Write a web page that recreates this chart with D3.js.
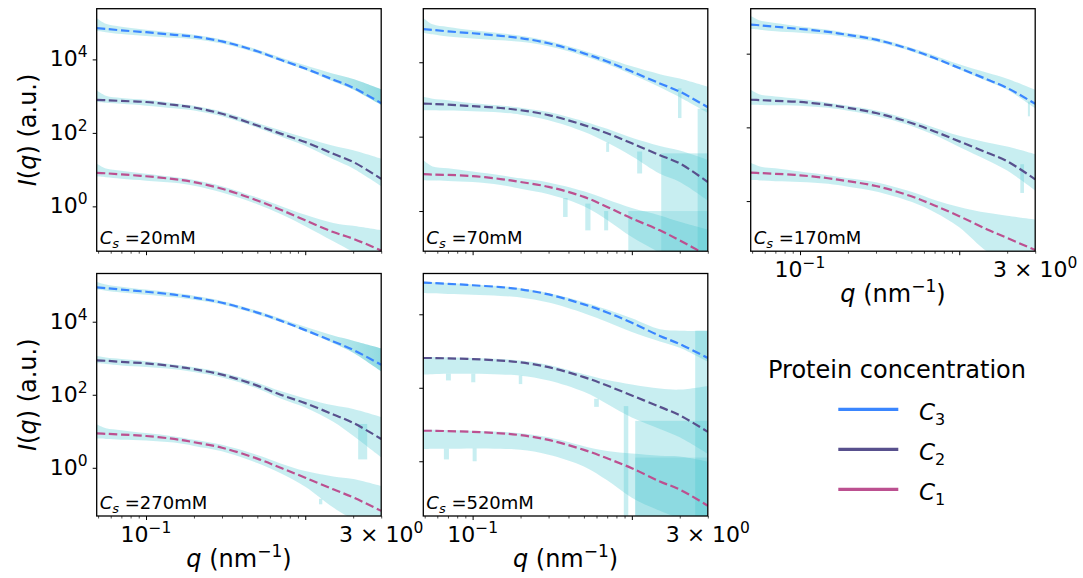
<!DOCTYPE html>
<html><head><meta charset="utf-8">
<script src="https://cdn.jsdelivr.net/npm/d3@7"></script>
<style>
body{margin:0;background:#fff}
svg{display:block}
text{font-family:"DejaVu Sans",sans-serif;fill:#000}
</style>
</head><body>
<svg id="chart" width="1083" height="578"></svg>
<script>
// ---------------- data ----------------
const qGrid = [0.049, 0.056, 0.07, 0.1, 0.15, 0.2, 0.3, 0.5, 0.7, 1, 1.5, 2, 3];
const saltLabels = ["20mM", "70mM", "170mM", "270mM", "520mM"];
const seriesNames = ["3", "2", "1"];
const seriesColors = ["#3a86ff", "#58508d", "#bc5090"];
// log10 of y-axis limits for each panel
const yLimitsLog = [[-1.22, 5.38], [-1.08, 5.44], [-1.36, 5.22], [-1.32, 5.32], [-1.49, 5.11]];
const xLimits = [0.049, 3];

// fitted model curves, log10 I(q) at qGrid
const fitC3 = [
  [4.85, 4.83, 4.79, 4.74, 4.67, 4.62, 4.49, 4.22, 3.99, 3.75, 3.45, 3.23, 2.81],
  [4.89, 4.87, 4.83, 4.78, 4.71, 4.65, 4.51, 4.24, 4.02, 3.75, 3.43, 3.21, 2.79],
  [4.79, 4.77, 4.73, 4.67, 4.59, 4.51, 4.38, 4.11, 3.88, 3.61, 3.30, 3.07, 2.64],
  [4.94, 4.92, 4.88, 4.82, 4.74, 4.66, 4.52, 4.25, 4.03, 3.77, 3.46, 3.23, 2.82],
  [4.86, 4.85, 4.83, 4.79, 4.74, 4.68, 4.54, 4.27, 4.05, 3.77, 3.41, 3.19, 2.81]
];
const fitC2 = [
  [2.90, 2.89, 2.87, 2.84, 2.76, 2.69, 2.52, 2.20, 1.98, 1.75, 1.43, 1.21, 0.75],
  [2.89, 2.88, 2.86, 2.82, 2.77, 2.71, 2.58, 2.31, 2.09, 1.82, 1.50, 1.28, 0.78],
  [2.75, 2.74, 2.72, 2.69, 2.61, 2.53, 2.39, 2.12, 1.89, 1.62, 1.31, 1.08, 0.59],
  [2.94, 2.93, 2.90, 2.86, 2.78, 2.70, 2.55, 2.25, 2.00, 1.77, 1.46, 1.23, 0.79],
  [2.81, 2.81, 2.80, 2.78, 2.74, 2.69, 2.56, 2.29, 2.06, 1.79, 1.48, 1.25, 0.80]
];
const fitC1 = [
  [0.91, 0.90, 0.87, 0.82, 0.74, 0.66, 0.48, 0.16, -0.09, -0.38, -0.70, -0.88, -1.20],
  [0.99, 0.98, 0.97, 0.94, 0.86, 0.78, 0.65, 0.38, 0.11, -0.20, -0.52, -0.79, -1.20],
  [0.77, 0.76, 0.74, 0.70, 0.62, 0.54, 0.41, 0.13, -0.12, -0.41, -0.77, -1.00, -1.33],
  [0.94, 0.93, 0.91, 0.87, 0.79, 0.70, 0.55, 0.25, 0.00, -0.27, -0.59, -0.81, -1.18],
  [0.83, 0.83, 0.82, 0.80, 0.76, 0.71, 0.58, 0.31, 0.08, -0.19, -0.55, -0.77, -1.21]
];

// measured-data band: upper / lower edge, in decades relative to the fit
const upC3 = [
  [0.28, 0.14, 0.10, 0.07, 0.06, 0.05, 0.05, 0.05, 0.06, 0.09, 0.16, 0.24, 0.38],
  [0.30, 0.15, 0.12, 0.08, 0.07, 0.06, 0.06, 0.07, 0.09, 0.14, 0.25, 0.35, 0.55],
  [0.23, 0.13, 0.10, 0.07, 0.06, 0.05, 0.05, 0.05, 0.07, 0.10, 0.18, 0.25, 0.38],
  [0.15, 0.10, 0.08, 0.06, 0.05, 0.05, 0.05, 0.05, 0.06, 0.09, 0.16, 0.25, 0.45],
  [0.03, 0.02, 0.02, 0.02, 0.02, 0.03, 0.04, 0.06, 0.08, 0.12, 0.18, 0.36, 0.74]
];
const dnC3 = [
  [-0.08, -0.09, -0.10, -0.10, -0.08, -0.07, -0.06, -0.05, -0.04, -0.04, -0.05, -0.05, -0.05],
  [-0.10, -0.12, -0.14, -0.14, -0.12, -0.10, -0.08, -0.07, -0.07, -0.08, -0.10, -0.15, -0.15],
  [-0.12, -0.12, -0.12, -0.10, -0.08, -0.07, -0.06, -0.05, -0.04, -0.04, -0.05, -0.05, -0.12],
  [-0.06, -0.07, -0.08, -0.08, -0.07, -0.06, -0.05, -0.05, -0.04, -0.04, -0.05, -0.08, -0.18],
  [-0.28, -0.28, -0.28, -0.26, -0.24, -0.22, -0.22, -0.24, -0.26, -0.25, -0.15, -0.10, -0.10]
];
const upC2 = [
  [0.26, 0.12, 0.08, 0.06, 0.05, 0.05, 0.06, 0.07, 0.09, 0.12, 0.22, 0.32, 0.55],
  [0.18, 0.14, 0.12, 0.08, 0.07, 0.07, 0.08, 0.10, 0.12, 0.15, 0.25, 0.35, 0.60],
  [0.27, 0.15, 0.12, 0.08, 0.06, 0.06, 0.07, 0.08, 0.10, 0.15, 0.28, 0.40, 0.68],
  [0.12, 0.09, 0.08, 0.06, 0.05, 0.05, 0.06, 0.08, 0.10, 0.13, 0.25, 0.38, 0.60],
  [0.03, 0.03, 0.03, 0.03, 0.04, 0.05, 0.06, 0.08, 0.15, 0.30, 0.50, 0.70, 1.25]
];
const dnC2 = [
  [-0.06, -0.07, -0.08, -0.10, -0.09, -0.08, -0.07, -0.06, -0.08, -0.10, -0.15, -0.18, -0.20],
  [-0.18, -0.17, -0.16, -0.14, -0.12, -0.12, -0.14, -0.18, -0.25, -0.35, -0.50, -0.50, -0.50],
  [-0.14, -0.13, -0.12, -0.10, -0.08, -0.08, -0.08, -0.08, -0.10, -0.15, -0.20, -0.25, -0.30],
  [-0.08, -0.09, -0.10, -0.10, -0.08, -0.08, -0.08, -0.08, -0.10, -0.12, -0.20, -0.35, -0.50],
  [-0.45, -0.44, -0.42, -0.40, -0.38, -0.36, -0.36, -0.40, -0.50, -0.60, -0.60, -0.60, -0.60]
];
const upC1 = [
  [0.26, 0.13, 0.10, 0.07, 0.06, 0.06, 0.07, 0.08, 0.10, 0.15, 0.25, 0.35, 0.55],
  [0.38, 0.22, 0.18, 0.12, 0.10, 0.10, 0.12, 0.15, 0.20, 0.28, 0.40, 0.50, 0.70],
  [0.27, 0.18, 0.15, 0.10, 0.08, 0.08, 0.10, 0.12, 0.15, 0.25, 0.45, 0.60, 0.83],
  [0.25, 0.15, 0.12, 0.08, 0.07, 0.07, 0.08, 0.10, 0.12, 0.18, 0.35, 0.50, 0.68],
  [0.03, 0.03, 0.03, 0.03, 0.04, 0.05, 0.07, 0.10, 0.20, 0.40, 0.70, 0.90, 1.20]
];
const dnC1 = [
  [-0.10, -0.11, -0.12, -0.12, -0.10, -0.10, -0.10, -0.10, -0.12, -0.16, -0.25, -0.35, -0.30],
  [-0.16, -0.16, -0.16, -0.16, -0.16, -0.18, -0.20, -0.25, -0.35, -0.50, -0.60, -0.60, -0.60],
  [-0.20, -0.20, -0.20, -0.18, -0.15, -0.15, -0.15, -0.15, -0.18, -0.30, -0.60, -0.60, -0.60],
  [-0.14, -0.14, -0.14, -0.12, -0.10, -0.10, -0.10, -0.12, -0.15, -0.25, -0.50, -0.60, -0.60],
  [-0.50, -0.49, -0.48, -0.45, -0.42, -0.40, -0.40, -0.45, -0.60, -0.80, -0.80, -0.80, -0.80]
];
// extra noisy data regions / drop-outs: [q from, q to, log top, log bottom (null = axis bottom), dark?]
const dataBlocks = [
  [],
  [[0.95, 1.53, 0.0, null, 0], [1.53, 3.0, 1.55, null, 0], [2.59, 3.0, 2.75, null, 0], [1.53, 3.0, 0.0, null, 1],
   [1.08, 1.16, 1.6, 1.01, 0], [0.51, 0.55, 0.2, -0.52, 0], [0.67, 0.71, 0.0, -0.52, 0], [1.95, 2.05, 3.3, 2.5, 0],
   [0.37, 0.395, 0.35, -0.16, 0], [0.69, 0.72, 1.84, 1.59, 0]],
  [[2.70, 2.78, 2.7, 2.3, 0], [2.42, 2.55, 1.0, 0.22, 0]],
  [[2.15, 2.45, 1.2, 0.23, 0], [1.22, 1.28, -0.85, -1.0, 0]],
  [[0.89, 0.95, 1.5, null, 0], [1.05, 3.0, 1.1, null, 0], [2.5, 3.0, 3.55, null, 0], [1.05, 3.0, 0.1, null, 1],
   [0.068, 0.073, 2.38, 2.2, 0], [0.098, 0.104, 2.38, 2.15, 0], [0.195, 0.205, 2.33, 2.1, 0],
   [0.066, 0.071, 0.34, 0.05, 0], [0.1, 0.106, 0.35, 0.0, 0], [0.58, 0.62, 1.7, 1.48, 0]]
];
const xMajorTicks = [0.1, 1];
const xMinorTicks = [0.05, 0.06, 0.07, 0.08, 0.09, 0.2, 0.3, 0.4, 0.5, 0.6, 0.7, 0.8, 0.9, 2, 3];
const xTickLabels = [[0.1, "10", "−1"], [3, "3 × 10", "0"]];
const yTickValues = [1, 100, 10000];
const yTickExps = ["0", "2", "4"];
const legendTitle = "Protein concentration";

// ---------------- layout ----------------
const svg = d3.select("#chart");
const colX = [96.7, 423.3, 750.7];
const rowY = [8.7, 273.5];
const pw = 284.5, ph = 242.5;
const panelPos = [[0, 0], [1, 0], [2, 0], [0, 1], [1, 1]];
const showXLabels = [false, false, true, true, true];
const showYLabels = [true, false, false, true, false];
const bandFill = "#4cc9d2", bandOpacity = 0.31;
const tealFill = "#22b4c0";

const fits = [fitC3, fitC2, fitC1];
const ups = [upC3, upC2, upC1];
const dns = [dnC3, dnC2, dnC1];
const defs = svg.append("defs");

saltLabels.forEach((lab, p) => {
  const [ci, ri] = panelPos[p];
  const g = svg.append("g").attr("transform", `translate(${colX[ci]},${rowY[ri]})`);
  const x = d3.scaleLog().domain(xLimits).range([0, pw]);
  const y = d3.scaleLog().domain([10 ** yLimitsLog[p][0], 10 ** yLimitsLog[p][1]]).range([ph, 0]);
  const clipId = "clip" + p;
  g.append("clipPath").attr("id", clipId).append("rect").attr("width", pw).attr("height", ph);
  const plot = g.append("g").attr("clip-path", `url(#${clipId})`);

  // gradient for the noisy high-q part of the C3 data
  const gradId = "noise" + p;
  const grad = defs.append("linearGradient").attr("id", gradId)
    .attr("gradientUnits", "userSpaceOnUse")
    .attr("x1", colX[ci] + x(0.3)).attr("x2", colX[ci] + x(3)).attr("y1", 0).attr("y2", 0);
  grad.append("stop").attr("offset", 0).attr("stop-color", tealFill).attr("stop-opacity", 0);
  grad.append("stop").attr("offset", 0.45).attr("stop-color", tealFill).attr("stop-opacity", 0.38);
  grad.append("stop").attr("offset", 1).attr("stop-color", tealFill).attr("stop-opacity", 0.75);

  // data bands
  fits.forEach((fit, s) => {
    const pts = qGrid.map((q, i) => ({q, m: fit[p][i], u: fit[p][i] + ups[s][p][i], d: fit[p][i] + dns[s][p][i]}));
    const area = d3.area().curve(d3.curveCatmullRom.alpha(0.5))
      .x(d => x(d.q)).y0(d => y(10 ** d.d)).y1(d => y(10 ** d.u));
    plot.append("path").datum(pts).attr("d", area)
      .attr("fill", bandFill).attr("fill-opacity", bandOpacity);
    if (s === 0) {
      plot.append("path").datum(pts.filter(d => d.q >= 0.2)).attr("d", area)
        .attr("fill", `url(#${gradId})`);
    }
  });
  // noisy blocks
  dataBlocks[p].forEach(b => {
    const yTop = y(10 ** b[2]);
    const yBot = b[3] === null ? ph : y(10 ** b[3]);
    plot.append("rect").attr("x", x(b[0])).attr("width", x(b[1]) - x(b[0]))
      .attr("y", yTop).attr("height", yBot - yTop)
      .attr("fill", b[4] ? tealFill : bandFill).attr("fill-opacity", b[4] ? 0.16 : bandOpacity);
  });
  // fit lines
  fits.forEach((fit, s) => {
    const line = d3.line().curve(d3.curveCatmullRom.alpha(0.5)).x(d => x(d[0])).y(d => y(10 ** d[1]));
    plot.append("path").datum(qGrid.map((q, i) => [q, fit[p][i]])).attr("d", line)
      .attr("fill", "none").attr("stroke", seriesColors[s]).attr("stroke-width", 2.2)
      .attr("stroke-dasharray", "8.5,3.7");
  });

  // axes ticks
  const axMaj = d3.axisBottom(x).tickValues(xMajorTicks).tickSize(4).tickFormat("");
  const axMin = d3.axisBottom(x).tickValues(xMinorTicks).tickSize(2.5).tickFormat("");
  [axMaj, axMin].forEach((ax, k) => {
    const ga = g.append("g").attr("transform", `translate(0,${ph})`).call(ax);
    ga.select(".domain").remove();
    ga.selectAll("line").attr("stroke", "#000").attr("stroke-width", k ? 0.7 : 1);
  });
  const ay = d3.axisLeft(y).tickValues(yTickValues).tickSize(4).tickFormat("");
  const gy = g.append("g").call(ay);
  gy.select(".domain").remove();
  gy.selectAll("line").attr("stroke", "#000").attr("stroke-width", 1);

  if (showYLabels[p]) {
    yTickValues.forEach((v, i) => {
      const t = g.append("text").attr("x", -9).attr("y", y(v) + 7).attr("text-anchor", "end")
        .style("font-size", "22px");
      t.append("tspan").text("10");
      t.append("tspan").attr("dy", -9).style("font-size", "15.5px").text(yTickExps[i]);
    });
    const yl = g.append("text").attr("transform", `translate(${36 - colX[ci]},${ph / 2}) rotate(-90)`)
      .attr("text-anchor", "middle").style("font-size", "24px");
    yl.append("tspan").style("font-style", "italic").text("I");
    yl.append("tspan").text("(");
    yl.append("tspan").style("font-style", "italic").text("q");
    yl.append("tspan").text(") (a.u.)");
  }
  if (showXLabels[p]) {
    xTickLabels.forEach(tl => {
      const t = g.append("text").attr("x", x(tl[0])).attr("y", ph + 26).attr("text-anchor", "middle")
        .style("font-size", "22px");
      t.append("tspan").text(tl[1]);
      t.append("tspan").attr("dy", -9).style("font-size", "15.5px").text(tl[2]);
    });
    const xl = g.append("text").attr("x", pw / 2).attr("y", ph + 51).attr("text-anchor", "middle")
      .style("font-size", "24px");
    xl.append("tspan").style("font-style", "italic").text("q");
    xl.append("tspan").text(" (nm");
    xl.append("tspan").attr("dy", -10).style("font-size", "17px").text("−1");
    xl.append("tspan").attr("dy", 10).text(")");
  }

  // panel label
  const pl = g.append("text").attr("x", 3).attr("y", ph - 7).style("font-size", "18px");
  pl.append("tspan").style("font-style", "italic").text("C");
  pl.append("tspan").attr("dy", 4).style("font-size", "13px").style("font-style", "italic").text("s");
  pl.append("tspan").attr("dy", -4).text(" =" + lab);

  // frame
  g.append("rect").attr("width", pw).attr("height", ph).attr("fill", "none")
    .attr("stroke", "#000").attr("stroke-width", 1.3);
});

// ---------------- legend ----------------
const lg = svg.append("g");
lg.append("text").attr("x", 897).attr("y", 378).attr("text-anchor", "middle")
  .style("font-size", "24px").text(legendTitle);
seriesNames.forEach((n, i) => {
  const ly = 409.3 + i * 40;
  lg.append("line").attr("x1", 838.3).attr("x2", 898.3).attr("y1", ly).attr("y2", ly)
    .attr("stroke", seriesColors[i]).attr("stroke-width", 3.2);
  const t = lg.append("text").attr("x", 919).attr("y", ly + 10.5).style("font-size", "23px");
  t.append("tspan").style("font-style", "italic").text("C");
  t.append("tspan").attr("dy", 5).style("font-size", "16px").text(n);
});
</script>
</body></html>
